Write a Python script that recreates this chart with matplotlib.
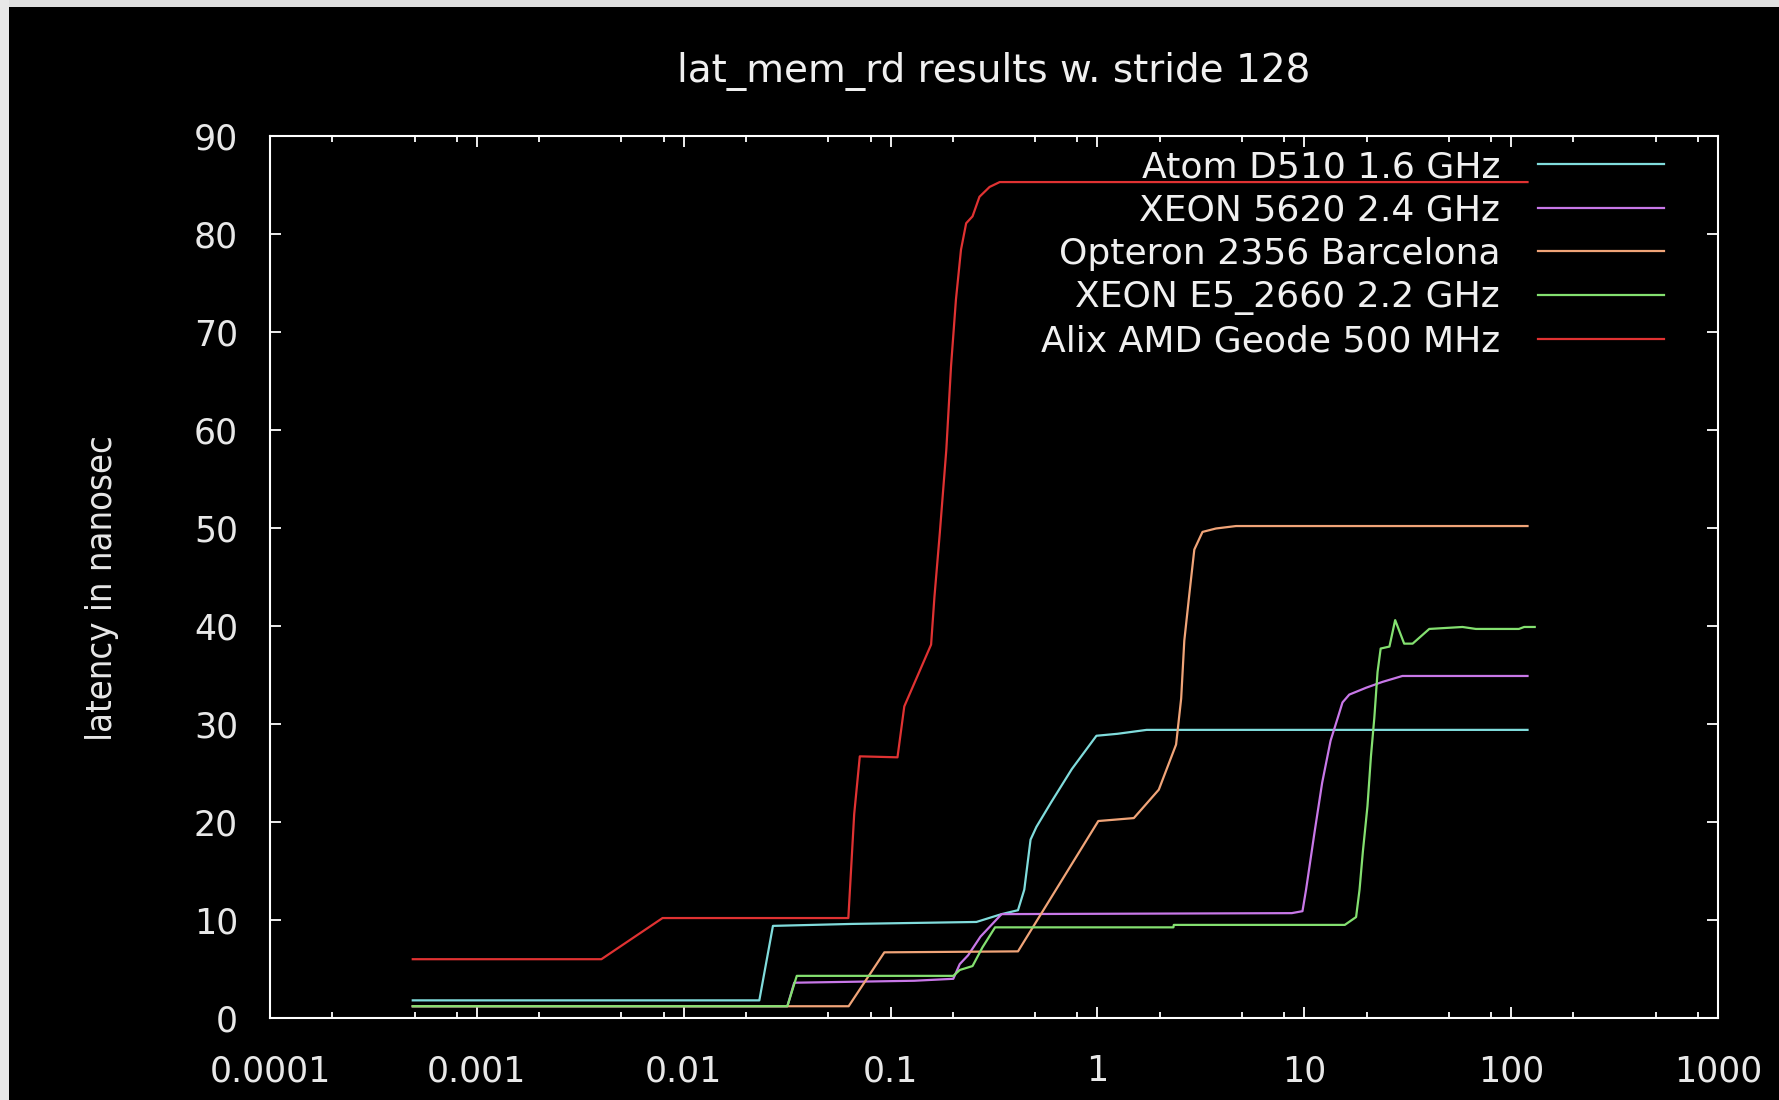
import matplotlib
matplotlib.use("Agg")
import matplotlib.pyplot as plt
from matplotlib.patches import Rectangle
from matplotlib.ticker import FixedLocator, FixedFormatter, NullFormatter

# ---------------- data ----------------
title = "lat_mem_rd results w. stride 128"
ylabel = "latency in nanosec"

series_names = [
    "Atom D510 1.6 GHz",
    "XEON 5620 2.4 GHz",
    "Opteron 2356 Barcelona",
    "XEON E5_2660 2.2 GHz",
    "Alix AMD Geode 500 MHz",
]
series_colors = ["#80dcdc", "#c878e8", "#f0a478", "#84e070", "#e03232"]

atom_x = [0.00049, 0.0232, 0.027, 0.065, 0.26, 0.344, 0.413, 0.443, 0.475,
          0.507, 0.597, 0.752, 0.989, 1.25, 1.73, 120]
atom_y = [1.8, 1.8, 9.4, 9.6, 9.8, 10.6, 11.0, 13.1, 18.2,
          19.5, 22.0, 25.4, 28.8, 29.0, 29.4, 29.4]

xeon5620_x = [0.00049, 0.0317, 0.0342, 0.13, 0.201, 0.216, 0.237, 0.272, 0.344,
              8.7, 9.8, 10.2, 11.2, 12.2, 13.4, 14.5, 15.3, 16.5, 19.9, 23.9,
              29.8, 120]
xeon5620_y = [1.2, 1.2, 3.6, 3.8, 4.0, 5.5, 6.4, 8.3, 10.6,
              10.7, 10.9, 13.1, 18.9, 24.0, 28.3, 30.6, 32.2, 33.0, 33.7, 34.3,
              34.9, 34.9]

opteron_x = [0.00049, 0.0627, 0.0933, 0.413, 1.01, 1.50, 1.98, 2.40, 2.54,
             2.63, 2.78, 2.94, 3.22, 3.74, 4.68, 120]
opteron_y = [1.2, 1.2, 6.7, 6.8, 20.1, 20.4, 23.3, 27.9, 32.6,
             38.5, 43.2, 47.8, 49.6, 49.95, 50.2, 50.2]

xeone5_x = [0.00049, 0.0317, 0.0352, 0.201, 0.216, 0.249, 0.278, 0.320, 2.33,
            2.34, 15.7, 16.2, 17.8, 18.5, 19.2, 20.2, 21.0, 21.8, 22.6, 23.4,
            25.8, 27.5, 30.4, 33.4, 40.2, 58.2, 67.5, 109, 115.6, 130]
xeone5_y = [1.2, 1.2, 4.3, 4.3, 4.9, 5.3, 7.2, 9.25, 9.25,
            9.5, 9.5, 9.7, 10.3, 13.1, 17.0, 21.6, 26.7, 30.6, 35.3, 37.7,
            37.9, 40.6, 38.2, 38.2, 39.7, 39.9, 39.7, 39.7, 39.9, 39.9]

alix_x = [0.00049, 0.0040, 0.0079, 0.0625, 0.0667, 0.071, 0.108, 0.1165,
          0.157, 0.163, 0.173, 0.186, 0.196, 0.207, 0.219, 0.232, 0.249,
          0.269, 0.301, 0.337, 120]
alix_y = [6.0, 6.0, 10.2, 10.2, 20.8, 26.7, 26.6, 31.8,
          38.1, 43.0, 49.5, 58.0, 66.5, 73.3, 78.4, 81.1, 81.8,
          83.8, 84.8, 85.3, 85.3]

all_x = [atom_x, xeon5620_x, opteron_x, xeone5_x, alix_x]
all_y = [atom_y, xeon5620_y, opteron_y, xeone5_y, alix_y]

xtick_values = [1e-4, 1e-3, 1e-2, 1e-1, 1, 10, 100, 1000]
xtick_labels = ["0.0001", "0.001", "0.01", "0.1", "1", "10", "100", "1000"]
minor_multipliers = [2, 5, 8]
ytick_values = [0, 10, 20, 30, 40, 50, 60, 70, 80, 90]
ytick_labels = ["0", "10", "20", "30", "40", "50", "60", "70", "80", "90"]

# ---------------- figure ----------------
W, H = 1779, 1100
fig = plt.figure(figsize=(W / 100, H / 100), dpi=100, facecolor="black")
fig.patches.append(Rectangle((0, 1 - 7 / H), 1, 7 / H, transform=fig.transFigure,
                             facecolor="#e0e0e0", edgecolor="none", zorder=-1))
fig.patches.append(Rectangle((0, 0), 9 / W, 1, transform=fig.transFigure,
                             facecolor="#e8e8e8", edgecolor="none", zorder=-1))

left, right, top, bottom = 270, 1718, 136, 1018
ax = fig.add_axes([left / W, 1 - bottom / H, (right - left) / W, (bottom - top) / H])
ax.set_facecolor("black")

for xs, ys, name, col in zip(all_x, all_y, series_names, series_colors):
    ax.plot(xs, ys, color=col, lw=1.6, label=name)

ax.set_xscale("log")
ax.set_xlim(1e-4, 1e3)
ax.set_ylim(0, 90)

ax.xaxis.set_major_locator(FixedLocator(xtick_values))
ax.xaxis.set_major_formatter(FixedFormatter(xtick_labels))
minor = [m * 10.0 ** e for e in range(-4, 3) for m in minor_multipliers]
ax.xaxis.set_minor_locator(FixedLocator(minor))
ax.xaxis.set_minor_formatter(NullFormatter())
ax.yaxis.set_major_locator(FixedLocator(ytick_values))
ax.yaxis.set_major_formatter(FixedFormatter(ytick_labels))

for s in ax.spines.values():
    s.set_color("white")
    s.set_linewidth(1.5)

tick_color = "#e8e8e8"
ax.tick_params(which="both", direction="in", top=True, right=True, colors="white",
               labelcolor=tick_color, width=1.3)
ax.tick_params(which="major", length=8, labelsize=25)
ax.tick_params(which="minor", length=4.5)
ax.tick_params(axis="x", which="major", pad=26)
ax.tick_params(axis="y", which="major", pad=23)

ax.set_title(title, color="#f0f0f0", fontsize=28, pad=39)

ax.set_ylabel(ylabel, color="#e8e8e8", fontsize=26, fontstretch="condensed",
              family=["DejaVu Sans"])
ax.yaxis.set_label_coords(-0.104, 0.488)

fs = 26
leg = ax.legend(loc="upper right", bbox_to_anchor=((1664 - left) / (right - left),
                                                     (bottom - 150) / (bottom - top)),
                frameon=False, markerfirst=False, fontsize=fs, handlelength=3.49,
                handletextpad=1.05, labelspacing=0.26, borderpad=0, borderaxespad=0)
for t in leg.get_texts():
    t.set_color("#f0f0f0")

fig.savefig("out.png", dpi=100, facecolor=fig.get_facecolor())
